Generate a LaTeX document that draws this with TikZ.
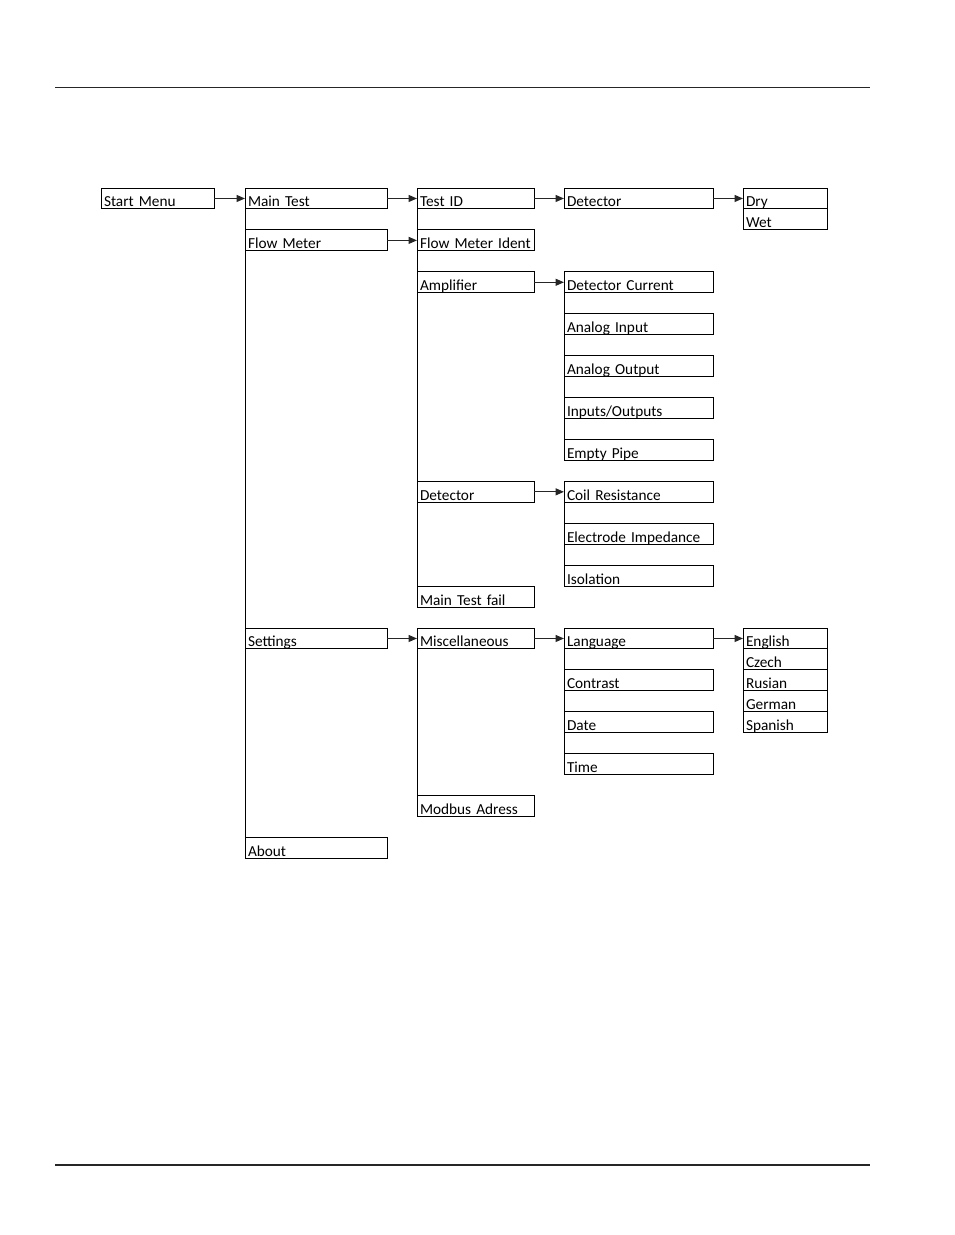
\documentclass[tikz,border=0pt]{standalone}
\usepackage{fontspec}
\setmainfont{Carlito}
\usetikzlibrary{arrows.meta,positioning}

\begin{document}
\begin{tikzpicture}[x=1pt,y=1pt,
  node distance=20.95pt and 30pt,
  cell/.style={draw,line width=1pt,outer sep=0pt,inner xsep=3pt,inner ysep=0pt,
    minimum height=20.95pt,text height=17pt,text depth=0pt,align=left,
    font=\fontsize{15.3}{18}\selectfont},
  colA/.style={cell,text width=107pt},
  colB/.style={cell,text width=136pt},
  colC/.style={cell,text width=111pt},
  colD/.style={cell,text width=143pt},
  colE/.style={cell,text width=78pt},
  arr/.style={-{Triangle[length=8.5pt,width=7pt]},line width=1.3pt,draw=black!85},
  link/.style={line width=1pt}
]
\useasboundingbox (0,0) rectangle (954,-1235);
% page rules
\draw[line width=1pt,black!85] (55,-87) -- (870,-87);
\draw[line width=2pt,black!85] (55,-1165) -- (870,-1165);

% first row
\node[colA,anchor=north west] (start) at (101,-188) {Start Menu};
\node[colB,right=31pt of start] (mtest) {Main Test};
\node[colC,right=of mtest] (testid) {Test ID};
\node[colD,right=of testid] (detD) {Detector};
\node[colE,right=of detD] (dry) {Dry};
\node[colE,below=0pt of dry] (wet) {Wet};

% flow meter branch
\node[colB,below=of mtest] (flow) {Flow Meter};
\node[colC,right=of flow] (fmid) {\mbox{Flow Meter Ident}};
\node[colC,below=of fmid] (amp) {Amplifier};
\node[colD,right=of amp] (dcur) {Detector Current};
\node[colD,below=of dcur] (ain) {Analog Input};
\node[colD,below=of ain] (aout) {Analog Output};
\node[colD,below=of aout] (io) {Inputs/Outputs};
\node[colD,below=of io] (pipe) {Empty Pipe};
\node[colC,below=188.6pt of amp] (detC) {Detector};
\node[colD,right=of detC] (coil) {Coil Resistance};
\node[colD,below=of coil] (elec) {\mbox{Electrode Impedance}};
\node[colD,below=of elec] (iso) {Isolation};
\node[colC,below=83.8pt of detC] (mtf) {Main Test fail};

% settings branch
\node[colC,below=of mtf] (misc) {Miscellaneous};
\node[colB,left=of misc] (settings) {Settings};
\node[colD,right=of misc] (lang) {Language};
\node[colD,below=of lang] (contr) {Contrast};
\node[colD,below=of contr] (date) {Date};
\node[colD,below=of date] (time) {Time};
\node[colE,right=of lang] (eng) {English};
\node[colE,below=0pt of eng] (cz) {Czech};
\node[colE,below=0pt of cz] (rus) {Rusian};
\node[colE,below=0pt of rus] (ger) {German};
\node[colE,below=0pt of ger] (spa) {Spanish};
\node[colC,below=146.65pt of misc] (modbus) {Modbus Adress};
\node[colB,below=188.6pt of settings] (about) {About};

% column links
\draw[link] (mtest.south west) -- (about.north west);
\draw[link] (testid.south west) -- (mtf.north west);
\draw[link] (misc.south west) -- (modbus.north west);
\draw[link] (dcur.south west) -- (pipe.north west);
\draw[link] (coil.south west) -- (iso.north west);
\draw[link] (lang.south west) -- (time.north west);

% arrows
\draw[arr] (start) -- (mtest);
\draw[arr] (mtest) -- (testid);
\draw[arr] (testid) -- (detD);
\draw[arr] (detD) -- (dry);
\draw[arr] (flow) -- (fmid);
\draw[arr] (amp) -- (dcur);
\draw[arr] (detC) -- (coil);
\draw[arr] (settings) -- (misc);
\draw[arr] (misc) -- (lang);
\draw[arr] (lang) -- (eng);
\end{tikzpicture}
\end{document}
